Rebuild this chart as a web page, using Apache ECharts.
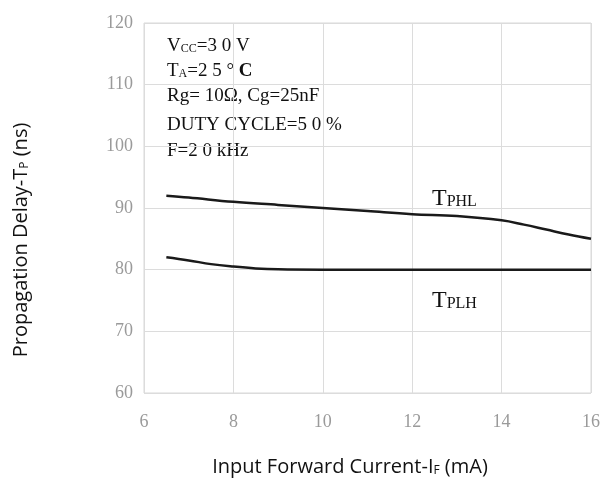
<!DOCTYPE html>
<html><head><meta charset="utf-8">
<script src="https://cdn.jsdelivr.net/npm/echarts@6/dist/echarts.min.js"></script>
<style>html,body{margin:0;padding:0;background:#fff}#c{width:606px;height:481px}</style>
</head><body><div id="c"></div>
<script>
const xTicks = [6, 8, 10, 12, 14, 16];
const yTicks = [60, 70, 80, 90, 100, 110, 120];
const tphlX = [6.5, 7, 8, 9, 10, 11, 12, 13, 14, 14.5, 15, 15.5, 16];
const tphlY = [92, 91.7, 91, 90.5, 90, 89.5, 89, 88.7, 88, 87.3, 86.5, 85.7, 85];
const tplhX = [6.5, 7, 7.5, 8, 8.5, 9, 10, 12, 14, 16];
const tplhY = [82, 81.5, 80.9, 80.5, 80.2, 80.05, 80, 80, 80, 80];

const chart = echarts.init(document.getElementById('c'), null, {renderer: 'canvas'});
const pair = (xs, ys) => xs.map((x, i) => [x, ys[i]]);
const serif = 'Liberation Serif';
const tickColor = '#9a9a9a';
chart.setOption({
  animation: false,
  grid: {left: 144, right: 15, top: 23, bottom: 88, show: true, borderColor: '#d8d8d8', borderWidth: 1},
  xAxis: {
    type: 'value', min: xTicks[0], max: xTicks[xTicks.length - 1], interval: 2,
    axisLine: {show: false}, axisTick: {show: false},
    splitLine: {show: true, lineStyle: {color: '#dcdcdc', width: 1}},
    axisLabel: {color: tickColor, fontFamily: serif, fontSize: 18, margin: 20}
  },
  yAxis: {
    type: 'value', min: yTicks[0], max: yTicks[yTicks.length - 1], interval: 10,
    axisLine: {show: false}, axisTick: {show: false},
    splitLine: {show: true, lineStyle: {color: '#dcdcdc', width: 1}},
    axisLabel: {color: tickColor, fontFamily: serif, fontSize: 18, margin: 11}
  },
  series: [
    {type: 'line', data: pair(tphlX, tphlY), smooth: 0.4, symbol: 'none',
     lineStyle: {color: '#1a1a1a', width: 2.5}},
    {type: 'line', data: pair(tplhX, tplhY), smooth: 0.4, symbol: 'none',
     lineStyle: {color: '#1a1a1a', width: 2.5}}
  ],
  graphic: [
    {type: 'text', left: 167, top: 37, style: {
      text: '{b|V}{s|CC}{b|=3 0 V}', rich: {
        b: {fontFamily: serif, fontSize: 19, fill: '#111'},
        s: {fontFamily: serif, fontSize: 12, fill: '#111', padding: [5, 0, 0, 0]}}}},
    {type: 'text', left: 167, top: 62, style: {
      text: '{b|T}{s|A}{b|=2 5 ° }{c|C}', rich: {
        b: {fontFamily: serif, fontSize: 19, fill: '#111'},
        s: {fontFamily: serif, fontSize: 12, fill: '#111', padding: [5, 0, 0, 0]},
        c: {fontFamily: serif, fontSize: 19, fill: '#111', fontWeight: 'bold'}}}},
    {type: 'text', left: 167, top: 87, style: {text: 'Rg= 10Ω, Cg=25nF', font: '19px "Liberation Serif"', fill: '#111'}},
    {type: 'text', left: 167, top: 116, style: {text: 'DUTY CYCLE=5 0 %', font: '19px "Liberation Serif"', fill: '#111'}},
    {type: 'text', left: 167, top: 142, style: {text: 'F=2 0 kHz', font: '19px "Liberation Serif"', fill: '#111'}},
    {type: 'text', left: 432, top: 187, style: {
      text: '{b|T}{s|PHL}', rich: {
        b: {fontFamily: serif, fontSize: 24, fill: '#111'},
        s: {fontFamily: serif, fontSize: 16, fill: '#111', padding: [5, 0, 0, 0]}}}},
    {type: 'text', left: 432, top: 289, style: {
      text: '{b|T}{s|PLH}', rich: {
        b: {fontFamily: serif, fontSize: 24, fill: '#111'},
        s: {fontFamily: serif, fontSize: 16, fill: '#111', padding: [5, 0, 0, 0]}}}},
    {type: 'text', x: 21, y: 240, rotation: Math.PI / 2, style: {
      text: '{a|Propagation Delay-T}{s|P}{a| (ns)}', align: 'center', verticalAlign: 'middle', rich: {
        a: {fontFamily: 'Open Sans', fontSize: 20, fill: '#111'},
        s: {fontFamily: 'Open Sans', fontSize: 12, fill: '#111', padding: [7, 0, 0, 0]}}}},
    {type: 'text', x: 350, y: 467, style: {
      text: '{a|Input Forward Current-I}{s|F}{a| (mA)}', align: 'center', verticalAlign: 'middle', rich: {
        a: {fontFamily: 'Open Sans', fontSize: 20, fill: '#111'},
        s: {fontFamily: 'Open Sans', fontSize: 12, fill: '#111', padding: [7, 0, 0, 0]}}}}
  ]
});
</script></body></html>
